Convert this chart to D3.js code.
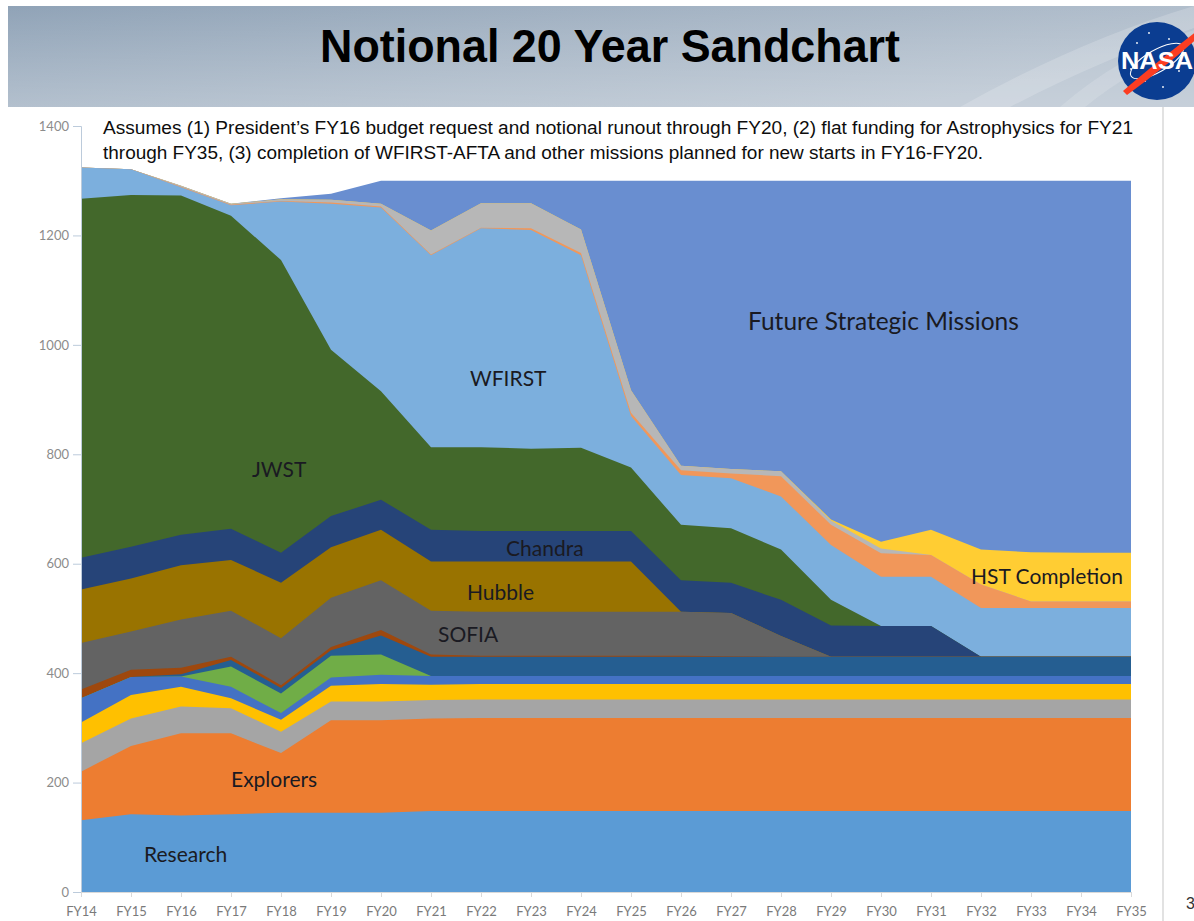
<!DOCTYPE html>
<html>
<head>
<meta charset="utf-8">
<script src="https://cdn.jsdelivr.net/npm/d3@7"></script>
<style>
  body { margin: 0; background: #fff; }
  svg { display: block; }
</style>
</head>
<body>
<div id="wrapper"></div>
<script>
// Fiscal years on the x axis
const years = ["FY14","FY15","FY16","FY17","FY18","FY19","FY20","FY21","FY22","FY23","FY24",
               "FY25","FY26","FY27","FY28","FY29","FY30","FY31","FY32","FY33","FY34","FY35"];

// y axis tick values ($M)
const yTicks = [0, 200, 400, 600, 800, 1000, 1200, 1400];

// series values, bottom of the stack first
const research        = [131,142,140,142,145,145,145,148,148,148,148,148,148,148,148,148,148,148,148,148,148,148];
const explorers       = [89,125,150,148,109,169,169,169,170,170,170,170,170,170,170,170,170,170,170,170,170,170];
const bandGray        = [52,50,49,46,39,34,34,34,34,34,34,34,34,34,34,34,34,34,34,34,34,34];
const bandGold        = [38,43,36,18,22,29,32,28,28,28,28,28,28,28,28,28,28,28,28,28,28,28];
const bandBlue        = [44,33,19,21,12,15,17,16,15,15,15,15,15,15,15,15,15,15,15,15,15,15];
const bandGreen       = [0,0,0,37,36,40,37,0,0,0,0,0,0,0,0,0,0,0,0,0,0,0];
const bandSteel       = [0,0,4,12,10,10,35,35,35,35,35,35,35,35,35,35,35,35,35,35,35,35];
const bandRust        = [16,13,12,6,5,6,10,4,2,2,2,2,2,1,0,0,0,0,0,0,0,0];
const sofia           = [85,70,88,84,86,90,91,80,80,80,80,80,80,79,38,0,0,0,0,0,0,0];
const hubble          = [98,97,99,93,101,92,92,90,92,92,92,92,0,0,0,0,0,0,0,0,0,0];
const chandra         = [58,58,56,57,55,57,55,58,56,56,56,56,58,55,66,57,56,56,0,0,0,0];
const jwst            = [656,643,620,572,535,304,198,151,153,150,152,116,101,100,92,47,0,0,0,0,0,0];
const wfirst          = [57,47,15,19,107,267,336,351,400,400,352,94,91,91,97,100,90,90,89,89,89,89];
const bandPeach       = [0,0,1,1,1,2,2,1,1,3,4,6,9,9,37,37,43,40,43,12,12,12];
const bandSilver      = [0,0,2,2,3,5,5,44,45,46,43,41,8,8,9,8,9,0,0,0,0,0];
const hstCompletion   = [0,0,0,0,0,0,0,0,0,0,0,0,0,0,0,2,12,46,64,90,89,89];
const futureStrategic = [0,0,0,0,2,11,42,91,41,41,89,383,521,527,531,619,660,638,674,679,680,680];

const seriesKeys = ["research","explorers","bandGray","bandGold","bandBlue","bandGreen","bandSteel",
  "bandRust","sofia","hubble","chandra","jwst","wfirst","bandPeach","bandSilver","hstCompletion","futureStrategic"];
const seriesValues = [research, explorers, bandGray, bandGold, bandBlue, bandGreen, bandSteel,
  bandRust, sofia, hubble, chandra, jwst, wfirst, bandPeach, bandSilver, hstCompletion, futureStrategic];
const seriesColors = ["#5b9bd5","#ed7d31","#a5a5a5","#ffc000","#4472c4","#70ad47","#255e91",
  "#9e480e","#636363","#997300","#264478","#43682b","#7cafdd","#f1975a","#b7b7b7","#ffcd33","#698ed0"];

// text labels drawn inside the bands
const bandLabels = ["Future Strategic Missions","WFIRST","JWST","Chandra","Hubble","SOFIA",
  "HST Completion","Explorers","Research"];

const subtitle = [
  "Assumes (1) President\u2019s FY16 budget request and notional runout through FY20, (2) flat funding for Astrophysics for FY21",
  "through FY35, (3) completion of WFIRST-AFTA and other missions planned for new starts in FY16-FY20."
];

function drawSandchart() {
  const width = 1194, height = 921;
  const margin = { top: 126, right: 63, bottom: 29, left: 81 };
  const boundedWidth = width - margin.left - margin.right;
  const boundedHeight = height - margin.top - margin.bottom;

  const svg = d3.select("#wrapper").append("svg")
    .attr("width", width)
    .attr("height", height)
    .style("font-family", "Liberation Sans, Arial, sans-serif");

  const defs = svg.append("defs");
  const bannerGrad = defs.append("linearGradient").attr("id", "banner")
    .attr("x1", 0).attr("y1", 0).attr("x2", 1).attr("y2", 0.4);
  bannerGrad.append("stop").attr("offset", "0%").attr("stop-color", "#90a3b7");
  bannerGrad.append("stop").attr("offset", "55%").attr("stop-color", "#a6b5c5");
  bannerGrad.append("stop").attr("offset", "100%").attr("stop-color", "#b6c2cf");
  const shade = defs.append("linearGradient").attr("id", "shade")
    .attr("x1", 0).attr("y1", 0).attr("x2", 0).attr("y2", 1);
  shade.append("stop").attr("offset", "0%").attr("stop-color", "#fff").attr("stop-opacity", 0);
  shade.append("stop").attr("offset", "100%").attr("stop-color", "#fff").attr("stop-opacity", 0.22);

  // slide header
  svg.append("rect").attr("x", 8).attr("y", 6).attr("width", width - 8).attr("height", 101)
    .attr("fill", "url(#banner)");
  svg.append("rect").attr("x", 8).attr("y", 6).attr("width", width - 8).attr("height", 101)
    .attr("fill", "url(#shade)");
  svg.append("path").attr("d", "M960,107 Q1080,40 1194,6 L1194,28 Q1100,60 1010,107 Z")
    .attr("fill", "#fff").attr("opacity", 0.18);
  svg.append("path").attr("d", "M1060,107 Q1120,55 1194,30 L1194,44 Q1130,70 1085,107 Z")
    .attr("fill", "#fff").attr("opacity", 0.15);

  svg.append("text")
    .attr("x", 610).attr("y", 62)
    .attr("text-anchor", "middle")
    .attr("font-size", 46).attr("font-weight", "bold")
    .attr("textLength", 580).attr("lengthAdjust", "spacingAndGlyphs")
    .attr("fill", "#000")
    .text("Notional 20 Year Sandchart");

  // NASA meatball
  const logo = svg.append("g").attr("transform", "translate(1157,61)");
  logo.append("circle").attr("r", 39).attr("fill", "#0b3d91");
  [[-20,-18],[-8,-28],[12,-22],[22,10],[-26,8],[6,26],[-12,20],[26,-6]].forEach(p => {
    logo.append("circle").attr("cx", p[0]).attr("cy", p[1]).attr("r", 0.9).attr("fill", "#fff");
  });
  logo.append("ellipse").attr("rx", 30).attr("ry", 11).attr("transform", "rotate(-30)")
    .attr("fill", "none").attr("stroke", "#fff").attr("stroke-width", 1);
  logo.append("path")
    .attr("d", "M-34,30 Q-5,5 40,-30 L44,-26 Q10,5 -30,34 Z")
    .attr("fill", "#fc3d21");
  logo.append("text").attr("y", 8).attr("text-anchor", "middle")
    .attr("font-size", 24).attr("font-weight", "bold").attr("fill", "#fff")
    .attr("textLength", 72).attr("lengthAdjust", "spacingAndGlyphs")
    .text("NASA");

  // chart frame right edge
  svg.append("line").attr("x1", 1163).attr("x2", 1163).attr("y1", 107).attr("y2", height)
    .attr("stroke", "#d9d9d9").attr("stroke-width", 1.5);
  svg.append("text").attr("x", 1186).attr("y", 909).attr("font-size", 16).attr("fill", "#333").text("3");

  const bounds = svg.append("g")
    .attr("transform", `translate(${margin.left},${margin.top})`);

  // scales
  const xScale = d3.scalePoint().domain(years).range([0, boundedWidth]);
  const xIndex = d3.scaleLinear().domain([0, years.length - 1]).range([0, boundedWidth]);
  const yScale = d3.scaleLinear().domain([0, 1400]).range([boundedHeight, 0]);

  // table for the stack
  const table = years.map((yr, i) => {
    const row = { year: yr };
    seriesKeys.forEach((k, j) => { row[k] = seriesValues[j][i]; });
    return row;
  });
  const stacked = d3.stack().keys(seriesKeys)(table);

  // paint each band from the baseline up to its top, top band first, so no seams show
  const areaGenerator = d3.area()
    .x(d => xScale(d.data.year))
    .y0(yScale(0))
    .y1(d => yScale(d[1]));

  bounds.append("g").selectAll("path")
    .data(stacked.slice().reverse())
    .join("path")
      .attr("d", areaGenerator)
      .attr("fill", d => seriesColors[d.index]);

  // axes
  const yAxis = bounds.append("g")
    .call(d3.axisLeft(yScale).tickValues(yTicks).tickFormat(d3.format("d"))
      .tickSize(8).tickPadding(4));
  yAxis.select(".domain").attr("stroke", "#bccbdb");
  yAxis.selectAll(".tick line").attr("stroke", "#bccbdb");
  yAxis.selectAll("text").attr("fill", "#8c8c8c").attr("font-size", 13)
    .attr("font-family", "Lato, sans-serif");

  const xAxis = bounds.append("g")
    .attr("transform", `translate(0,${boundedHeight})`)
    .call(d3.axisBottom(xScale).tickSize(5).tickPadding(10).tickSizeOuter(0));
  xAxis.select(".domain").attr("stroke", "#d9d9d9");
  xAxis.selectAll(".tick line").attr("stroke", "#d9d9d9");
  xAxis.selectAll("text").attr("fill", "#7a7a7a").attr("font-size", 13)
    .attr("font-family", "Lato, sans-serif");

  // band labels, placed in data space (category index, $M)
  const labelSpots = [
    [13.34, 1027], [7.78, 925], [3.42, 758], [8.5, 614], [7.72, 534],
    [7.14, 457], [17.8, 563], [3.0, 192], [1.26, 55]
  ];
  bounds.append("g").selectAll("text")
    .data(bandLabels)
    .join("text")
      .attr("x", (d, i) => xIndex(labelSpots[i][0]))
      .attr("y", (d, i) => yScale(labelSpots[i][1]))
      .attr("font-family", "Lato, sans-serif")
      .attr("font-size", (d, i) => i === 0 ? 24.5 : 21)
      .attr("fill", "#1a1a22")
      .text(d => d);

  // assumptions note
  const noteLengths = [1030, 880];
  bounds.append("g").selectAll("text")
    .data(subtitle)
    .join("text")
      .attr("x", 22)
      .attr("y", (d, i) => 8 + i * 25)
      .attr("font-size", 17.5)
      .attr("textLength", (d, i) => noteLengths[i])
      .attr("lengthAdjust", "spacingAndGlyphs")
      .attr("fill", "#0d0d0d")
      .text(d => d);
}

drawSandchart();
</script>
</body>
</html>
